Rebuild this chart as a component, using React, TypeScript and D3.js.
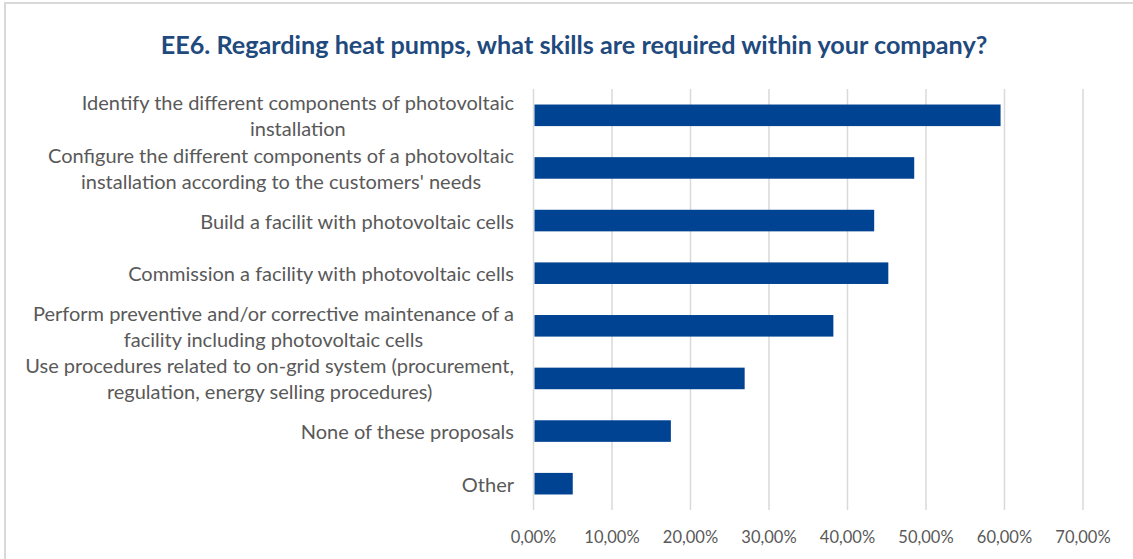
import React from "react";
import * as d3 from "d3";

const title = "EE6. Regarding heat pumps, what skills are required within your company?";

const categories: string[][] = [
  ["Identify the different components of photovoltaic", "installation"],
  ["Configure the different components of a photovoltaic", "installation according to the customers' needs"],
  ["Build a facilit with photovoltaic cells"],
  ["Commission a facility with photovoltaic cells"],
  ["Perform preventive and/or corrective maintenance of a", "facility including photovoltaic cells"],
  ["Use procedures related to on-grid system (procurement,", "regulation, energy selling procedures)"],
  ["None of these proposals"],
  ["Other"],
];

const values = [59.5, 48.5, 43.4, 45.2, 38.2, 26.9, 17.5, 5.0];

const tickValues = [0, 10, 20, 30, 40, 50, 60, 70];

const W = 1133;
const H = 559;
const BAR = "#004393";
const GRID = "#D9D9D9";
const TEXT = "#595959";
const TITLE = "#1F4A7E";
const FONT = "Lato, 'Open Sans', sans-serif";

export default function App() {
  const x = d3.scaleLinear().domain([0, 70]).range([533.5, 1083]);
  const keys = categories.map((_, i) => String(i));
  const y = d3
    .scaleBand<string>()
    .domain(keys)
    .range([89, 510])
    .paddingInner(0.59)
    .paddingOuter(0.295);
  const fmt = (v: number) => d3.format(".2f")(v).replace(".", ",") + "%";
  const lineH = 26;

  return (
    <svg
      width={W}
      height={H}
      style={{ position: "absolute", left: 0, top: 0, background: "#fff" }}
      fontFamily={FONT}
    >
      <rect x={0} y={0} width={W} height={H} fill="#fff" />
      <rect x={5} y={3} width={W + 20} height={H + 20} fill="none" stroke={GRID} strokeWidth={2} />
      <text
        x={574}
        y={44}
        textAnchor="middle"
        dominantBaseline="central"
        fontSize={25.2}
        fontWeight="bold"
        fill={TITLE}
      >
        {title}
      </text>
      {tickValues.map((t) => (
        <g key={t}>
          <line x1={x(t)} x2={x(t)} y1={89} y2={510} stroke={GRID} strokeWidth={1.5} />
          <text
            x={x(t)}
            y={537}
            textAnchor="middle"
            dominantBaseline="central"
            fontSize={16.5}
            fill={TEXT}
          >
            {fmt(t)}
          </text>
        </g>
      ))}
      {values.map((v, i) => (
        <rect
          key={i}
          x={x(0) + 1}
          y={y(keys[i])!}
          width={x(v) - x(0) - 1}
          height={y.bandwidth()}
          fill={BAR}
        />
      ))}
      {categories.map((lines, i) => {
        const c = y(keys[i])! + y.bandwidth() / 2;
        return (
          <text
            key={i}
            textAnchor="middle"
            fontSize={20}
            fill={TEXT}
            className="cat"
            data-right={514}
          >
            {lines.map((l, j) => (
              <tspan
                key={j}
                x={0}
                y={c + (j - (lines.length - 1) / 2) * lineH}
                dominantBaseline="central"
              >
                {l}
              </tspan>
            ))}
          </text>
        );
      })}
      <CatFix />
    </svg>
  );
}

function CatFix() {
  const ref = React.useRef<SVGGElement>(null);
  React.useLayoutEffect(() => {
    const svg = ref.current?.ownerSVGElement;
    if (!svg) return;
    svg.querySelectorAll<SVGTextElement>("text.cat").forEach((t) => {
      const right = Number(t.getAttribute("data-right"));
      const tspans = Array.from(t.querySelectorAll("tspan")) as SVGTSpanElement[];
      const maxW = d3.max(tspans, (s) => s.getComputedTextLength()) || 0;
      const cx = right - maxW / 2;
      tspans.forEach((s) => s.setAttribute("x", String(cx)));
    });
  }, []);
  return <g ref={ref} />;
}
